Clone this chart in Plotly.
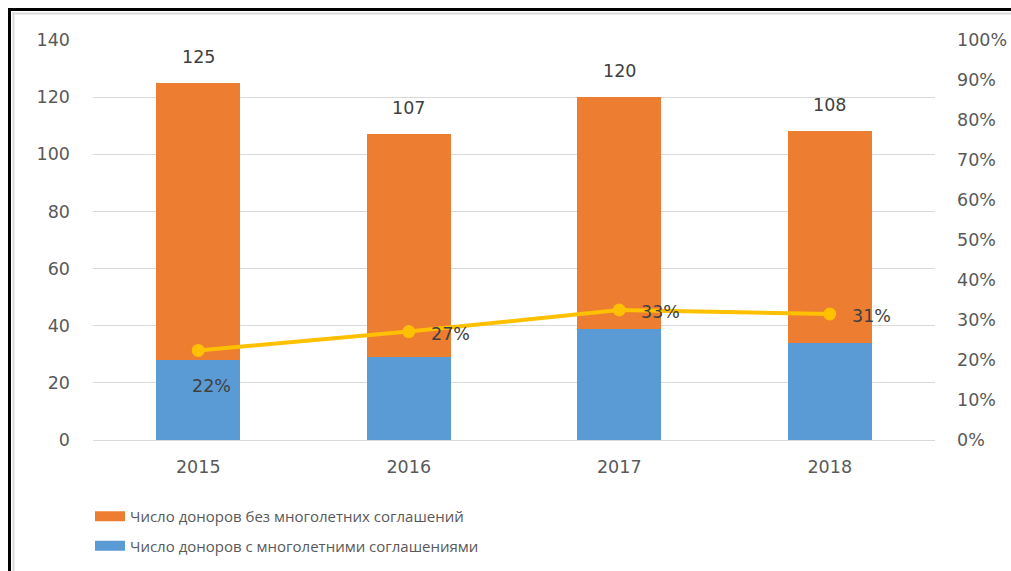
import plotly.graph_objects as go

years = ["2015", "2016", "2017", "2018"]
with_agreements = [28, 29, 39, 34]       # blue, bottom
without_agreements = [97, 78, 81, 74]    # orange, top
share = [0.224, 0.271, 0.325, 0.315]     # yellow line, right axis
share_labels = ["22%", "27%", "33%", "31%"]
totals = [a + b for a, b in zip(with_agreements, without_agreements)]

name_with = "Число доноров с многолетними соглашениями"
name_without = "Число доноров без многолетних соглашений"

BLUE = "#5B9BD5"
ORANGE = "#ED7D31"
YELLOW = "#FFC000"
TXT = "#595959"
LBL = "#404040"
FONT = "Open Sans, DejaVu Sans, sans-serif"
NUMFONT = "DejaVu Sans, Open Sans, sans-serif"
NS = 17.5

W, H = 1011, 571
# plot area in pixels: x 93..935, y 40..440
L, R, T, B = 93, W - 935, 40, H - 440
pw, ph = W - L - R, H - T - B

def px_x(sx):
    return (sx - L) / pw

def px_y(sy):
    return (H - B - sy) / ph

fig = go.Figure()
fig.add_trace(go.Bar(x=years, y=with_agreements, name=name_with,
                     marker=dict(color=BLUE, line=dict(width=0)),
                     showlegend=False))
fig.add_trace(go.Bar(x=years, y=without_agreements, name=name_without,
                     marker=dict(color=ORANGE, line=dict(width=0)),
                     showlegend=False))
fig.add_trace(go.Scatter(x=years, y=share, yaxis="y2", mode="lines+markers",
                         line=dict(color=YELLOW, width=4),
                         marker=dict(color=YELLOW, size=13),
                         showlegend=False, hoverinfo="skip"))
# legend entries (wide rectangular swatches like the original)
for nm, col, grp, rank in [(name_without, ORANGE, "b", 1), (name_with, BLUE, "a", 2)]:
    fig.add_trace(go.Scatter(x=[None], y=[None], mode="lines", name=nm,
                             line=dict(color=col, width=10),
                             legendgroup=grp, legendrank=rank,
                             showlegend=True, hoverinfo="skip"))

annotations = []
for i, tot in enumerate(totals):
    annotations.append(dict(x=i, y=tot, xref="x", yref="y", text=str(tot),
                            showarrow=False, yanchor="bottom", yshift=14,
                            font=dict(family=NUMFONT, size=NS, color=LBL)))
shifts = [(13, -36, "center"), (20, -2, "left"), (20, -2, "left"), (20, -2, "left")]
for i, (v, lab, (dx, dy, anc)) in enumerate(zip(share, share_labels, shifts)):
    annotations.append(dict(x=i, y=v, xref="x", yref="y2", text=lab,
                            showarrow=False, xanchor=anc, yanchor="middle",
                            xshift=dx, yshift=dy,
                            font=dict(family=NUMFONT, size=NS, color=LBL)))

shapes = [
    dict(type="line", xref="paper", yref="paper",
         x0=px_x(9.5), x1=px_x(9.5), y0=px_y(H + 10), y1=px_y(8),
         line=dict(color="black", width=3)),
    dict(type="line", xref="paper", yref="paper",
         x0=px_x(8), x1=px_x(W + 10), y0=px_y(9.5), y1=px_y(9.5),
         line=dict(color="black", width=3)),
    dict(type="line", xref="paper", yref="paper",
         x0=px_x(13.5), x1=px_x(13.5), y0=px_y(H + 10), y1=px_y(12.5),
         line=dict(color="#D9D9D9", width=2)),
    dict(type="line", xref="paper", yref="paper",
         x0=px_x(12.5), x1=px_x(W + 10), y0=px_y(13.5), y1=px_y(13.5),
         line=dict(color="#D9D9D9", width=2)),
]

fig.update_layout(
    width=W, height=H,
    margin=dict(l=L, r=R, t=T, b=B, pad=0, autoexpand=False),
    paper_bgcolor="white", plot_bgcolor="white",
    barmode="stack", bargap=0.6,
    font=dict(family=FONT, size=16, color=TXT),
    xaxis=dict(type="category", range=[-0.5, len(years) - 0.5],
               showgrid=False, showline=False, ticks="",
               ticklabelstandoff=14, automargin=False,
               tickfont=dict(family=NUMFONT, size=NS, color=TXT)),
    yaxis=dict(range=[0, 140], dtick=20, showgrid=True, gridcolor="#D9D9D9",
               gridwidth=1, zeroline=True, zerolinecolor="#D9D9D9",
               zerolinewidth=1, showline=False, ticks="",
               ticklabelstandoff=22, automargin=False,
               tickfont=dict(family=NUMFONT, size=NS, color=TXT)),
    yaxis2=dict(range=[0, 1], dtick=0.1, tickformat=".0%", overlaying="y",
                side="right", showgrid=False, zeroline=False, showline=False,
                ticks="", ticklabelstandoff=21, automargin=False,
                tickfont=dict(family=NUMFONT, size=NS, color=TXT)),
    legend=dict(x=px_x(90), y=px_y(500), xanchor="left", yanchor="top",
                orientation="v", traceorder="grouped",
                tracegroupgap=7, font=dict(family=FONT, size=15, color=TXT),
                bgcolor="rgba(0,0,0,0)"),
    annotations=annotations,
    shapes=shapes,
    showlegend=True,
)

fig.write_html("out.html", config={"displayModeBar": False},
               post_script="document.body.style.margin='0';"
                           "document.body.style.overflow='hidden';")
